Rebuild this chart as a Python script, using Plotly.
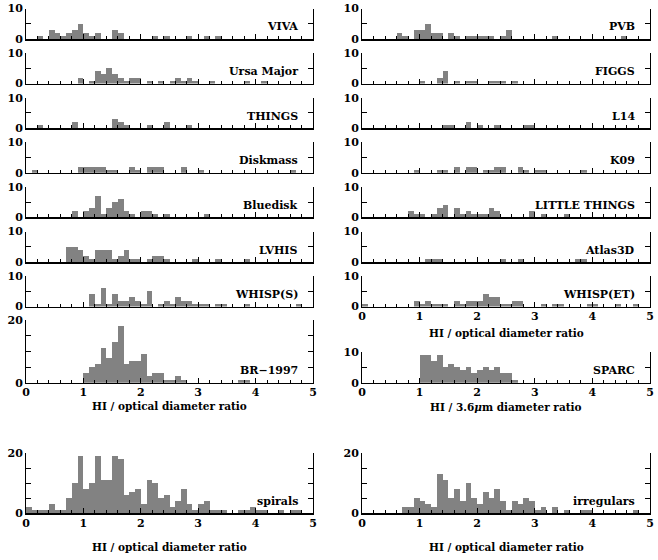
import plotly.graph_objects as go

W, H = 658, 560
GRAY = "#828282"
FONT = "DejaVu Serif"

# ---------------- data (bin left edges, bin width 0.1) ----------------
VIVA_BINS = [0.2, 0.4, 0.5, 0.6, 0.7, 0.8, 0.9, 1.0, 1.1, 1.2, 1.5, 1.6, 2.2, 2.4, 2.8, 3.1, 3.3]
VIVA_N = [1, 3, 2, 1, 2, 3, 5, 2, 1, 2, 3, 2, 1, 1, 1, 1, 1]

URSA_BINS = [0.9, 1.1, 1.2, 1.3, 1.4, 1.5, 1.6, 1.7, 1.8, 1.9, 2.1, 2.3, 2.5, 2.6, 2.7, 2.8, 2.9, 3.2, 3.8, 4.1]
URSA_N = [2, 1, 4, 3, 5, 3, 2, 1, 2, 2, 1, 1, 1, 2, 1, 2, 1, 1, 1, 1]

THINGS_BINS = [0.2, 0.8, 1.5, 1.6, 1.7, 2.1, 2.4, 2.8]
THINGS_N = [1, 2, 3, 2, 1, 1, 2, 1]

DISK_BINS = [0.1, 0.9, 1.0, 1.1, 1.2, 1.3, 1.4, 1.5, 1.8, 1.9, 2.1, 2.2, 2.3, 2.7, 3.0, 4.6]
DISK_N = [1, 2, 2, 2, 2, 2, 1, 1, 2, 1, 2, 2, 2, 2, 1, 1]

BLUE_BINS = [0.8, 1.0, 1.1, 1.2, 1.3, 1.4, 1.5, 1.6, 1.7, 1.8, 2.0, 2.1, 2.2, 2.4, 3.1]
BLUE_N = [2, 2, 3, 7, 1, 3, 5, 6, 2, 1, 2, 2, 1, 1, 1]

LVHIS_BINS = [0.7, 0.8, 0.9, 1.0, 1.1, 1.2, 1.3, 1.4, 1.5, 1.6, 1.7, 1.8, 1.9, 2.1, 2.2, 2.3, 2.4, 2.9, 3.3, 3.8]
LVHIS_N = [5, 5, 4, 2, 1, 4, 4, 4, 1, 2, 4, 1, 1, 1, 2, 2, 1, 1, 1, 1]

WHISPS_BINS = [1.1, 1.2, 1.3, 1.4, 1.5, 1.6, 1.7, 1.8, 1.9, 2.0, 2.1, 2.3, 2.4, 2.5, 2.6, 2.7, 2.8, 2.9,
               3.0, 3.1, 3.3, 3.4, 3.8, 4.7]
WHISPS_N = [4, 1, 6, 1, 4, 2, 2, 3, 2, 1, 5, 1, 2, 1, 3, 2, 2, 1, 1, 1, 1, 1, 1, 1]

BR_BINS = [1.0, 1.1, 1.2, 1.3, 1.4, 1.5, 1.6, 1.7, 1.8, 1.9, 2.0, 2.1, 2.2, 2.3, 2.4, 2.5, 2.6, 2.7, 3.7, 3.8]
BR_N = [3, 5, 6, 11, 8, 13, 18, 6, 7, 7, 9, 2, 3, 3, 1, 1, 2, 1, 1, 1]

SPIRALS_BINS = [0.0, 0.1, 0.2, 0.3, 0.4, 0.5, 0.6, 0.7, 0.8, 0.9, 1.0, 1.1, 1.2, 1.3, 1.4, 1.5, 1.6, 1.7, 1.8,
                1.9, 2.0, 2.1, 2.2, 2.3, 2.4, 2.5, 2.6, 2.7, 2.8, 2.9, 3.0, 3.1, 3.2, 3.3, 3.4, 3.7, 3.8,
                3.9, 4.0, 4.1, 4.4, 4.6, 4.7]
SPIRALS_N = [2, 1, 1, 1, 3, 1, 1, 5, 10, 19, 8, 10, 19, 11, 11, 19, 18, 6, 7,
             8, 3, 11, 10, 5, 6, 2, 4, 8, 3, 1, 3, 4, 1, 1, 1, 1, 1,
             2, 1, 1, 1, 1, 1]

PVB_BINS = [0.6, 0.7, 0.9, 1.0, 1.1, 1.2, 1.3, 1.5, 1.6, 1.8, 1.9, 2.0, 2.1, 2.2, 2.4, 2.5, 3.3, 4.5]
PVB_N = [2, 1, 3, 3, 5, 2, 2, 2, 1, 1, 1, 1, 1, 1, 1, 3, 1, 1]

FIGGS_BINS = [1.0, 1.3, 1.4, 1.6, 1.8, 1.9, 2.2, 2.3, 2.4, 2.6]
FIGGS_N = [1, 2, 4, 1, 1, 1, 1, 1, 1, 1]

L14_BINS = [1.4, 1.5, 1.8, 2.0, 2.3, 2.8, 2.9]
L14_N = [1, 1, 2, 1, 1, 1, 1]

K09_BINS = [0.9, 1.3, 1.4, 1.6, 1.8, 1.9, 2.1, 2.2, 2.3, 2.4, 2.7, 2.8, 3.0, 3.1, 3.8]
K09_N = [1, 1, 1, 2, 2, 2, 1, 1, 2, 2, 2, 1, 1, 1, 1]

LT_BINS = [0.8, 0.9, 1.0, 1.2, 1.3, 1.4, 1.6, 1.7, 1.8, 1.9, 2.0, 2.1, 2.2, 2.3, 2.9, 3.1, 3.5]
LT_N = [2, 1, 1, 1, 3, 4, 3, 1, 2, 1, 1, 1, 3, 2, 2, 1, 1]

ATLAS_BINS = [1.1, 1.2, 1.3, 2.4, 2.7, 3.7, 3.8]
ATLAS_N = [1, 1, 1, 1, 1, 1, 1]

WHISPET_BINS = [0.0, 0.9, 1.0, 1.1, 1.2, 1.3, 1.4, 1.6, 1.7, 1.8, 1.9, 2.0, 2.1, 2.2, 2.3, 2.4, 2.5, 2.6, 2.7,
                3.1, 3.3, 3.4, 3.9, 4.0, 4.4, 4.7]
WHISPET_N = [1, 2, 1, 2, 1, 1, 1, 2, 1, 2, 2, 2, 4, 3, 3, 1, 1, 2, 2, 1, 1, 1, 1, 1, 1, 1]

SPARC_BINS = [1.0, 1.1, 1.2, 1.3, 1.4, 1.5, 1.6, 1.7, 1.8, 1.9, 2.0, 2.1, 2.2, 2.3, 2.4, 2.5, 2.6]
SPARC_N = [9, 9, 7, 9, 5, 6, 5, 4, 5, 3, 4, 5, 4, 5, 3, 3, 1]

IRR_BINS = [0.7, 0.8, 0.9, 1.0, 1.1, 1.2, 1.3, 1.4, 1.5, 1.6, 1.7, 1.8, 1.9, 2.0, 2.1, 2.2, 2.3, 2.4, 2.5,
            2.6, 2.7, 2.8, 2.9, 3.0, 3.1, 3.3, 3.5, 3.8, 3.9, 4.7]
IRR_N = [2, 2, 5, 4, 3, 2, 13, 11, 5, 8, 4, 10, 5, 3, 7, 5, 8, 4, 1,
         4, 3, 5, 4, 1, 2, 2, 1, 1, 1, 1]

TITLE_OPT = "HI / optical diameter ratio"
TITLE_IR = "HI / 3.6<i>μ</i>m diameter ratio"

# ---------------- layout (pixels) ----------------
LEFT = (26, 313)
RIGHT = (362, 650)


def small(i):
    top = 8.5 + 44.6 * i
    return top, top + 30.5


panels = [
    # name, bins, counts, column, (top,bottom), ymax, show x tick labels
    ("VIVA", VIVA_BINS, VIVA_N, LEFT, small(0), 10, False),
    ("Ursa Major", URSA_BINS, URSA_N, LEFT, small(1), 10, False),
    ("THINGS", THINGS_BINS, THINGS_N, LEFT, small(2), 10, False),
    ("Diskmass", DISK_BINS, DISK_N, LEFT, small(3), 10, False),
    ("Bluedisk", BLUE_BINS, BLUE_N, LEFT, small(4), 10, False),
    ("LVHIS", LVHIS_BINS, LVHIS_N, LEFT, small(5), 10, False),
    ("WHISP(S)", WHISPS_BINS, WHISPS_N, LEFT, small(6), 10, False),
    ("BR\u22121997", BR_BINS, BR_N, LEFT, (320, 382.7), 20, True),
    ("spirals", SPIRALS_BINS, SPIRALS_N, LEFT, (453, 513), 20, True),
    ("PVB", PVB_BINS, PVB_N, RIGHT, small(0), 10, False),
    ("FIGGS", FIGGS_BINS, FIGGS_N, RIGHT, small(1), 10, False),
    ("L14", L14_BINS, L14_N, RIGHT, small(2), 10, False),
    ("K09", K09_BINS, K09_N, RIGHT, small(3), 10, False),
    ("LITTLE THINGS", LT_BINS, LT_N, RIGHT, small(4), 10, False),
    ("Atlas3D", ATLAS_BINS, ATLAS_N, RIGHT, small(5), 10, False),
    ("WHISP(ET)", WHISPET_BINS, WHISPET_N, RIGHT, small(6), 10, True),
    ("SPARC", SPARC_BINS, SPARC_N, RIGHT, (352, 382.7), 10, True),
    ("irregulars", IRR_BINS, IRR_N, RIGHT, (453, 513), 20, True),
]

fig = go.Figure()
layout = {}
annotations = []
tickfont = dict(family=FONT, size=11, color="black", weight="bold")

for k, (name, bins, counts, col, (top, bot), ymax, showx) in enumerate(panels, start=1):
    xa = "x" if k == 1 else f"x{k}"
    ya = "y" if k == 1 else f"y{k}"
    fig.add_trace(go.Bar(
        x=[b + 0.05 for b in bins], y=counts, width=0.1,
        xaxis=xa, yaxis=ya, marker=dict(color=GRAY, line=dict(width=0)),
        showlegend=False, hoverinfo="skip"))
    xkey = "xaxis" if k == 1 else f"xaxis{k}"
    ykey = "yaxis" if k == 1 else f"yaxis{k}"
    layout[xkey] = dict(
        domain=[col[0] / W, col[1] / W], anchor=ya, range=[0, 5], automargin=False,
        showline=True, linecolor="black", linewidth=1.5, mirror=False,
        ticks="inside", tickmode="linear", tick0=0, dtick=1, ticklen=5, tickwidth=1, tickcolor="black",
        minor=dict(ticks="inside", tickmode="linear", tick0=0, dtick=0.2, ticklen=3,
                   tickwidth=1, tickcolor="black", showgrid=False),
        showticklabels=showx, tickfont=tickfont, ticklabeloverflow="allow",
        ticklabelstandoff=-1, showgrid=False, zeroline=False, fixedrange=True)
    if ymax == 10:
        tv, tt = [0, 5, 10], ["0", "", "10"]
    else:
        tv, tt = [0, 5, 10, 15, 20], ["0", "", "", "", "20"]
    layout[ykey] = dict(
        domain=[1 - bot / H, 1 - top / H], anchor=xa, range=[0, ymax], automargin=False,
        showline=True, linecolor="black", linewidth=1, mirror="ticks",
        ticks="inside", tickmode="array", tickvals=tv, ticktext=tt, ticklen=5, tickwidth=1,
        tickcolor="black", tickfont=tickfont, ticklabeloverflow="allow",
        showgrid=False, zeroline=False, fixedrange=True)
    annotations.append(dict(
        text=name, xref=f"{xa} domain", yref=f"{ya} domain", x=1, y=0,
        xshift=-13, yshift=12, xanchor="right", yanchor="middle", showarrow=False,
        font=dict(family=FONT, size=11, color="black", weight="bold")))

titles = [
    (TITLE_OPT, (RIGHT[0] + RIGHT[1]) / 2, 332.5),
    (TITLE_OPT, (LEFT[0] + LEFT[1]) / 2, 405.5),
    (TITLE_IR, (RIGHT[0] + RIGHT[1]) / 2, 406.5),
    (TITLE_OPT, (LEFT[0] + LEFT[1]) / 2, 547),
    (TITLE_OPT, (RIGHT[0] + RIGHT[1]) / 2, 547),
]
for text, xc, yc in titles:
    annotations.append(dict(
        text=text, xref="paper", yref="paper", x=xc / W, y=1 - yc / H,
        xanchor="center", yanchor="middle", showarrow=False,
        font=dict(family=FONT, size=10.5, color="black", weight="bold")))

fig.update_layout(
    template="none",
    width=W, height=H, margin=dict(l=0, r=0, t=0, b=0, pad=0),
    paper_bgcolor="white", plot_bgcolor="white", bargap=0,
    annotations=annotations, **layout)

fig.write_html(
    "out.html",
    config={"displayModeBar": False, "staticPlot": True},
    post_script="document.body.style.margin='0';document.body.style.padding='0';"
                "document.documentElement.style.overflow='hidden';")
